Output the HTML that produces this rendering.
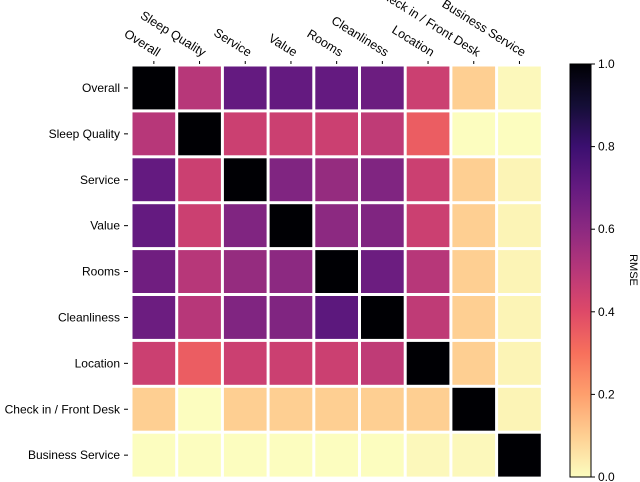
<!DOCTYPE html>
<html><head><meta charset="utf-8"><style>
body{margin:0;background:#fff;}
svg{display:block;font-family:"Liberation Sans","DejaVu Sans",sans-serif;}
</style></head><body>
<svg id="chart" width="640" height="482" viewBox="0 0 640 482">
<defs><linearGradient id="cbg" x1="0" y1="1" x2="0" y2="0"></linearGradient></defs>
<g id="cells"></g><g id="labels"></g><g id="cbar"></g>
</svg>
<script>
const categories=["Overall","Sleep Quality","Service","Value","Rooms","Cleanliness","Location","Check in / Front Desk","Business Service"];
const row0=[1,0.5,0.7,0.7,0.7,0.68,0.45,0.1,0.01];
const row1=[0.5,1,0.45,0.45,0.45,0.48,0.35,0.0,0.0];
const row2=[0.7,0.45,1,0.63,0.58,0.63,0.45,0.1,0.02];
const row3=[0.7,0.45,0.63,1,0.6,0.63,0.45,0.1,0.02];
const row4=[0.67,0.5,0.58,0.6,1,0.68,0.5,0.1,0.02];
const row5=[0.68,0.5,0.63,0.63,0.72,1,0.48,0.1,0.02];
const row6=[0.45,0.35,0.45,0.45,0.45,0.48,1,0.1,0.02];
const row7=[0.1,0.0,0.1,0.1,0.1,0.1,0.1,1,0.02];
const row8=[0.0,0.0,0.0,0.0,0.0,0.0,0.01,0.01,1];
const values=[row0,row1,row2,row3,row4,row5,row6,row7,row8];
const cbTicks=[0,0.2,0.4,0.6,0.8,1.0];
const magma=["#000004","#140e36","#3b0f70","#641a80","#8c2981","#b73779","#de4968","#f7705c","#fe9f6d","#fecf92","#fcfdbf"];
function hx(c){return [1,3,5].map(i=>parseInt(c.substr(i,2),16));}
function cmap(v){let t=(1-Math.max(0,Math.min(1,v)))*10;let i=Math.min(9,Math.floor(t));let f=t-i;let a=hx(magma[i]),b=hx(magma[i+1]);return "rgb("+a.map((x,k)=>Math.round(x+(b[k]-x)*f)).join(",")+")";}
const NS="http://www.w3.org/2000/svg";
const x0=131,y0=65,cw=45.7,ch=45.9;
const xPos=j=>x0+j*cw, yPos=i=>y0+i*ch;
const cells=document.getElementById('cells'),labels=document.getElementById('labels'),cbar=document.getElementById('cbar');
function mk(tag,attrs,parent){const e=document.createElementNS(NS,tag);for(const k in attrs)e.setAttribute(k,attrs[k]);parent.appendChild(e);return e;}
values.forEach((row,i)=>row.forEach((v,j)=>{
 const r=mk('rect',{x:xPos(j)+1.5,y:yPos(i)+1.5,width:cw-3,height:ch-3,fill:cmap(v)},cells);
 
 
}));
categories.forEach((c,i)=>{
 const t=mk('text',{x:120,y:yPos(i)+ch/2+4,'text-anchor':'end','font-size':12,fill:'#000'},labels);t.textContent=c;
 
 
 mk('line',{x1:124,x2:128,y1:yPos(i)+ch/2,y2:yPos(i)+ch/2,stroke:'#000'},labels);
 const cx=xPos(i)+cw/2;
 mk('line',{x1:cx,x2:cx,y1:61,y2:64,stroke:'#000'},labels);
 const u=mk('text',{x:cx+3,y:57,'text-anchor':'end','font-size':12.5,fill:'#000',transform:'rotate(32 '+(cx+3)+' 57)'},labels);u.textContent=c;
 
 
});
const cbx=570,cbw=21,cbTop=64,cbBot=477;
const g=document.getElementById('cbg');
for(let k=0;k<=20;k++){mk('stop',{offset:k/20,'stop-color':cmap(k/20)},g);}
const cb=mk('rect',{x:cbx,y:cbTop,width:cbw,height:cbBot-cbTop,fill:'url(#cbg)',stroke:'#000','stroke-width':1},cbar);


const cy=v=>cbBot-v*(cbBot-cbTop);
cbTicks.forEach(v=>{
 mk('line',{x1:cbx+cbw,x2:cbx+cbw+4,y1:cy(v),y2:cy(v),stroke:'#000'},cbar);
 const t=mk('text',{x:cbx+cbw+7,y:cy(v)+4,'font-size':12,fill:'#000'},cbar);t.textContent=v.toFixed(1);
 
 
});
const lab=mk('text',{x:630,y:270,'font-size':11,'text-anchor':'middle',fill:'#000',transform:'rotate(90 630 270)'},cbar);lab.textContent='RMSE';


</script>
</body></html>
